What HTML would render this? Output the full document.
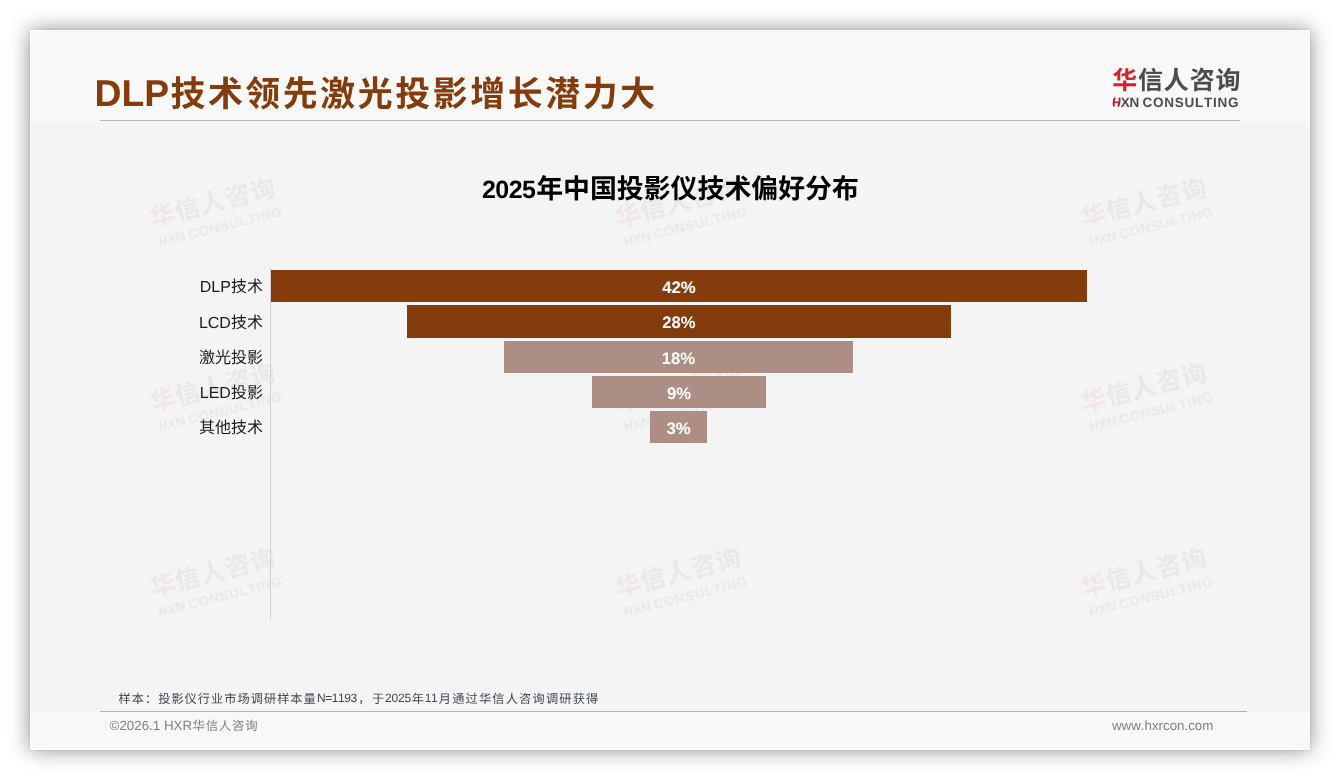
<!DOCTYPE html>
<html lang="zh-CN">
<head>
<meta charset="utf-8">
<title>DLP技术领先激光投影增长潜力大</title>
<style>
html,body{margin:0;padding:0;background:#fff;}
body{width:1340px;height:780px;position:relative;overflow:hidden;font-family:"Liberation Sans",sans-serif;text-rendering:geometricPrecision;}
.slide{position:absolute;left:30px;top:30px;width:1280px;height:720px;background:#f4f4f4;box-shadow:0 0 1px rgba(0,0,0,.3),0 0 20px rgba(0,0,0,.45);}
.hdr{position:absolute;left:0;top:0;width:1280px;height:96px;background:linear-gradient(#f8f8f8 0,#f8f8f8 90px,#f4f4f4 96px);}
.ftr{position:absolute;left:0;top:682px;width:1280px;height:38px;background:#f8f8f8;}
.hline{position:absolute;left:70px;top:90px;width:1140px;height:1px;background:#b9b9b9;}
.fline{position:absolute;left:70px;top:681px;width:1147px;height:1px;background:#bfada3;}
.edge{position:absolute;left:0;top:0;width:1280px;height:720px;box-sizing:border-box;border:1px solid rgba(255,255,255,.55);}
.axis{position:absolute;left:270px;top:268px;width:1px;height:352px;background:#d2d2d2;}
.bar{position:absolute;height:31.45px;display:flex;align-items:center;justify-content:center;}
.bar span{color:#fff;font-weight:700;font-size:16.7px;line-height:20px;position:relative;top:2px;white-space:nowrap;}
svg.layer{position:absolute;left:0;top:0;width:1340px;height:780px;overflow:visible;font-family:"Liberation Sans","Noto Sans CJK SC",sans-serif;font-kerning:none;}
svg.layer text{white-space:pre;}
</style>
</head>
<body>
<svg width="0" height="0" style="position:absolute" aria-hidden="true"><defs><g id="logo-cn"><text x="-0.39" y="22.15" font-size="25" font-weight="700" fill="#d3232a" font-family="&quot;Liberation Sans&quot;,&quot;Noto Sans CJK SC&quot;,sans-serif">华</text><text x="25.44" y="22.15" font-size="25" font-weight="700" fill="#4d4d4d" letter-spacing="0.83" font-family="&quot;Liberation Sans&quot;,&quot;Noto Sans CJK SC&quot;,sans-serif">信人咨询</text></g><g id="logo-en"><g fill="none" stroke="#bd1e2b" stroke-width="1.8" stroke-linecap="butt"><path d="M3.7 31.2 Q1.4 35.6 2.7 40.2"/><path d="M8.1 31.2 Q9.1 35.4 6.7 40.2"/><path d="M2.7 35.9 H7.9" stroke-width="1.6"/></g><text x="9.5" y="40.7" font-size="13.5" font-weight="700" fill="#4d4d4d" letter-spacing="-0.2">XN</text><text x="31.2" y="40.7" font-size="13.5" font-weight="700" fill="#4d4d4d" letter-spacing="0.76">CONSULTING</text></g></defs></svg>
<div class="slide"><div class="hdr"></div><div class="ftr"></div><div class="hline"></div><div class="fline"></div><div class="edge"></div></div>
<svg class="layer" viewBox="0 0 1340 780" aria-hidden="true"><g opacity="0.07"><g transform="translate(217 211.3) rotate(-14.2) translate(-63.5 -20.7)"><use href="#logo-cn" x="-2.4" y="-2.1"/><use href="#logo-en" x="-1.3"/></g><g transform="translate(682.5 211.3) rotate(-14.2) translate(-63.5 -20.7)"><use href="#logo-cn" x="-2.4" y="-2.1"/><use href="#logo-en" x="-1.3"/></g><g transform="translate(1148 211.3) rotate(-14.2) translate(-63.5 -20.7)"><use href="#logo-cn" x="-2.4" y="-2.1"/><use href="#logo-en" x="-1.3"/></g><g transform="translate(217 396.3) rotate(-14.2) translate(-63.5 -20.7)"><use href="#logo-cn" x="-2.4" y="-2.1"/><use href="#logo-en" x="-1.3"/></g><g transform="translate(682.5 396.3) rotate(-14.2) translate(-63.5 -20.7)"><use href="#logo-cn" x="-2.4" y="-2.1"/><use href="#logo-en" x="-1.3"/></g><g transform="translate(1148 396.3) rotate(-14.2) translate(-63.5 -20.7)"><use href="#logo-cn" x="-2.4" y="-2.1"/><use href="#logo-en" x="-1.3"/></g><g transform="translate(217 581.3) rotate(-14.2) translate(-63.5 -20.7)"><use href="#logo-cn" x="-2.4" y="-2.1"/><use href="#logo-en" x="-1.3"/></g><g transform="translate(682.5 581.3) rotate(-14.2) translate(-63.5 -20.7)"><use href="#logo-cn" x="-2.4" y="-2.1"/><use href="#logo-en" x="-1.3"/></g><g transform="translate(1148 581.3) rotate(-14.2) translate(-63.5 -20.7)"><use href="#logo-cn" x="-2.4" y="-2.1"/><use href="#logo-en" x="-1.3"/></g></g></svg>
<div class="axis"></div>
<div class="bar" style="left:271.1px;top:270.2px;width:815.8px;height:31.4px;background:#843c0c"><span>42%</span></div><div class="bar" style="left:407.2px;top:305.2px;width:543.6px;height:32.5px;background:#843c0c"><span>28%</span></div><div class="bar" style="left:504px;top:341.1px;width:349px;height:31.5px;background:#ac8e84"><span>18%</span></div><div class="bar" style="left:592px;top:375.8px;width:173.9px;height:31.9px;background:#ac8e84"><span>9%</span></div><div class="bar" style="left:650.2px;top:411.2px;width:56.7px;height:31.4px;background:#ac8e84"><span>3%</span></div>
<svg class="layer" viewBox="0 0 1340 780">
<text x="94.5" y="106" font-size="37.33" font-weight="700" fill="#843c0c">DLP</text>
<text x="170.4" y="106" font-size="34.9" font-weight="700" fill="#843c0c" letter-spacing="2.6">技术领先激光投影增长潜力大</text>
<text x="482" y="197.6" font-size="25" font-weight="700" fill="#000" textLength="54" lengthAdjust="spacing">2025</text>
<text x="536.18" y="198.3" font-size="26.9" font-weight="700" fill="#000">年中国投影仪技术偏好分布</text>
<text x="230.9" y="292.35" font-size="16" fill="#1a1a1a">技术</text>
<text x="230.9" y="292.35" font-size="16" fill="#1a1a1a" text-anchor="end">DLP</text>
<text x="230.9" y="327.6" font-size="16" fill="#1a1a1a">技术</text>
<text x="230.9" y="327.6" font-size="16" fill="#1a1a1a" text-anchor="end">LCD</text>
<text x="198.9" y="362.85" font-size="16" fill="#1a1a1a">激光投影</text>
<text x="230.9" y="398.1" font-size="16" fill="#1a1a1a">投影</text>
<text x="230.9" y="398.1" font-size="16" fill="#1a1a1a" text-anchor="end">LED</text>
<text x="198.9" y="433.35" font-size="16" fill="#1a1a1a">其他技术</text>
<text x="118.52" y="702.6" font-size="12.2" fill="#3f4955" letter-spacing="1.03">样本：投影仪行业市场调研样本量</text>
<text x="316.9" y="702.2" font-size="12" fill="#3f4955" textLength="40.4" lengthAdjust="spacing">N=1193</text>
<text x="358.3" y="702.6" font-size="12.2" fill="#3f4955">，</text>
<text x="371.9" y="702.6" font-size="12.2" fill="#3f4955">于</text>
<text x="385" y="702.2" font-size="12" fill="#3f4955" textLength="26.2" lengthAdjust="spacing">2025</text>
<text x="411.8" y="702.6" font-size="12.2" fill="#3f4955">年</text>
<text x="424.7" y="702.2" font-size="12" fill="#3f4955" textLength="13" lengthAdjust="spacing">11</text>
<text x="438.8" y="702.6" font-size="12.2" fill="#3f4955" letter-spacing="1.2">月通过华信人咨询调研获得</text>
<text x="109.6" y="729.8" font-size="13.33" fill="#808080">©2026.1 HXR</text>
<text x="192.44" y="729.6" font-size="12.4" fill="#808080" letter-spacing="0.8">华信人咨询</text>
<text x="1213.4" y="729.8" font-size="13.33" fill="#808080" text-anchor="end">www.hxrcon.com</text>
<g transform="translate(1112.6 66.4)"><use href="#logo-cn"/><use href="#logo-en" x="-1.3"/></g>
</svg>
</body>
</html>
